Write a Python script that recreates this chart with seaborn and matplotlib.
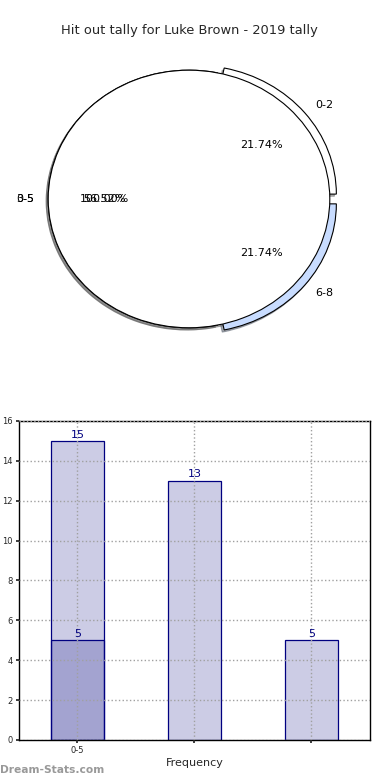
import matplotlib
matplotlib.use("Agg")
import matplotlib.pyplot as plt
import seaborn as sns

title = "Hit out tally for Luke Brown - 2019 tally"

# pie: hit outs grouped by range
pie_labels = ["0-2", "3-5", "6-8"]
pie_values = [5, 13, 5]
pie_colors = ["white", "white", "#c8dcff"]
pie_explode = [0.06, 0, 0.06]
total_label = ["0-5"]
total_value = [5]

# bars
bar_positions = [0, 1, 2]
bar_values = [15, 13, 5]
overlay_values = [5]
tick_labels = ["0-5", "", ""]

sns.set_theme(style="white")
plt.rcParams["font.family"] = ["DejaVu Sans"]

fig = plt.figure(figsize=(3.9, 7.8), dpi=100)

# --- pie (drawn twice, second one on top) ---
ax1 = fig.add_axes([0.0333, 0.5385, 0.9026, 0.4128])
wp = dict(edgecolor="black", linewidth=0.8)
tp = dict(fontsize=8, color="black")
shad = dict(ox=-0.01, oy=-0.012, shade=0.6)
ax1.pie(pie_values, labels=pie_labels, colors=pie_colors, explode=pie_explode,
        autopct="%.2f%%", startangle=0, shadow=shad, wedgeprops=wp, textprops=tp)
ax1.pie(total_value, labels=total_label, colors=["white"], autopct="%.2f%%",
        startangle=0, shadow=shad, wedgeprops=wp, textprops=tp)
ax1.set_aspect("auto")
ax1.set_xlim(-1.25, 1.25)
ax1.set_ylim(-1.25, 1.25)
ax1.set_title(title, fontsize=9.4, pad=3)

# --- bars ---
ax2 = fig.add_axes([0.0487, 0.0513, 0.9, 0.409])
sns.barplot(x=bar_positions, y=bar_values, width=0.45, saturation=1,
            color="navy", ax=ax2)
sns.barplot(x=bar_positions[:1], y=overlay_values, width=0.45, saturation=1,
            color="navy", ax=ax2)
for p in ax2.patches:
    p.set_facecolor((0, 0, 0.5, 0.2))
    p.set_edgecolor("navy")
    p.set_linewidth(0.9)
for c in ax2.containers:
    ax2.bar_label(c, color="navy", fontsize=8, padding=1)

ax2.set_xlim(-0.5, 2.5)
ax2.set_ylim(0, 16)
ax2.set_xticks(bar_positions, tick_labels)
ax2.set_yticks(range(0, 17, 2))
ax2.tick_params(axis="both", labelsize=6, direction="out", length=2.5, pad=2,
                left=True, bottom=True)
ax2.grid(True, linestyle=":", color="#a0a0a0", linewidth=1)
ax2.set_axisbelow(False)
for s in ax2.spines.values():
    s.set_color("black")
    s.set_linewidth(1)
ax2.set_xlabel("Frequency", fontsize=8, labelpad=2)
ax2.set_ylabel("Total Hit Outs", fontsize=8, labelpad=2)

fig.text(0.0, 1 - 770 / 780, "Dream-Stats.com", color="#999999", fontsize=7.7,
         fontweight="bold", ha="left", va="center")

fig.savefig("out.png", dpi=100)
